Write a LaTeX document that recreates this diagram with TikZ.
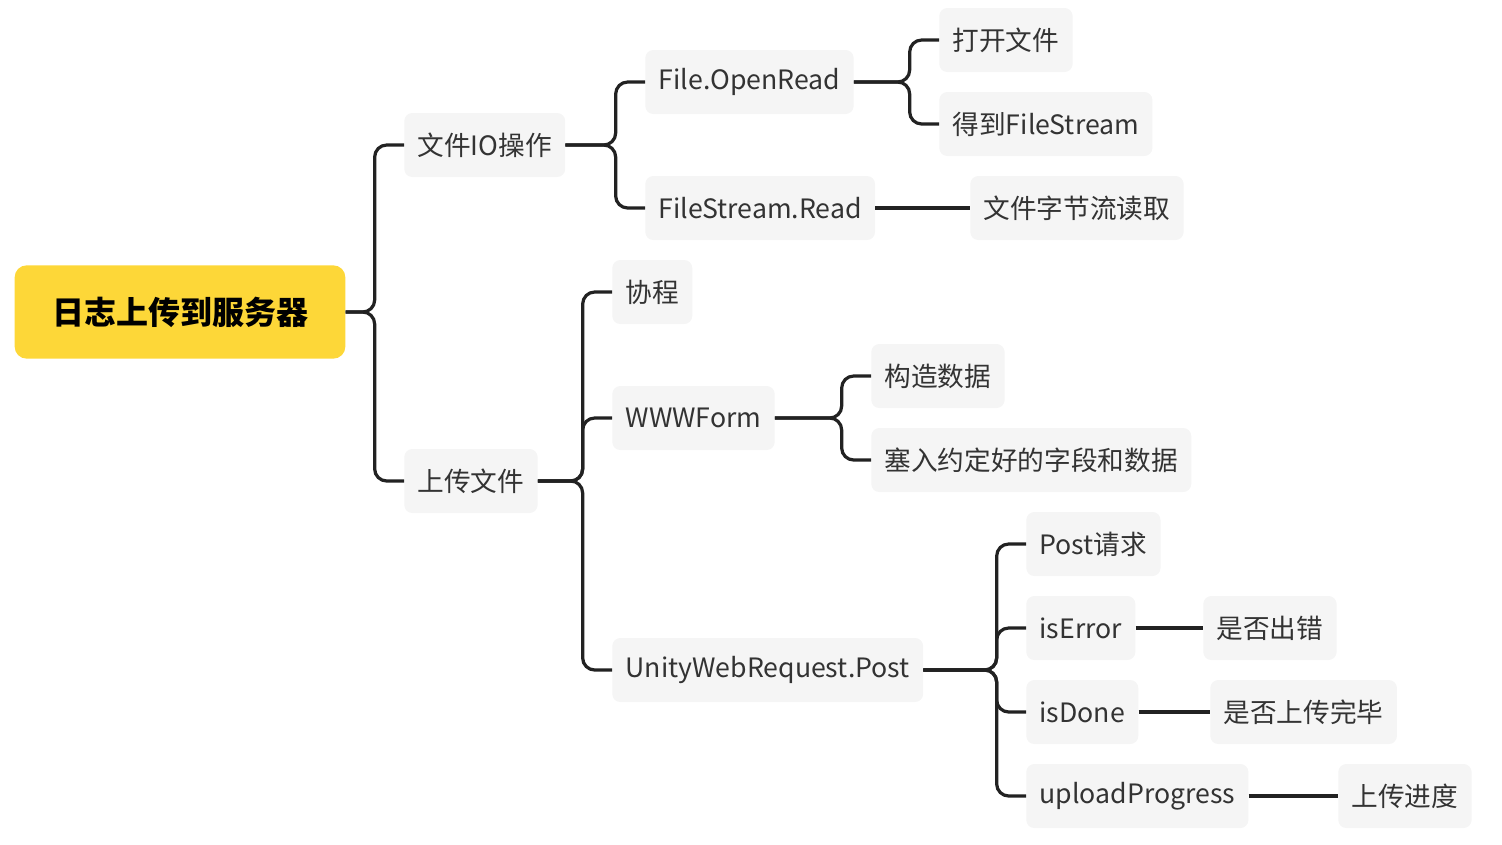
\documentclass[tikz,border=0pt]{standalone}
\usepackage{fontspec}
\setmainfont{Noto Sans CJK SC}
\usetikzlibrary{positioning}

\definecolor{boxgray}{HTML}{F5F5F5}
\definecolor{rootyellow}{HTML}{FDD738}
\definecolor{linkblack}{HTML}{222222}
\definecolor{txtgray}{HTML}{333333}

\tikzset{
  topic/.style={anchor=west, fill=boxgray, rounded corners=6pt, minimum height=48pt,
    inner xsep=10pt, font=\fontsize{20}{24}\selectfont, text=txtgray},
  rootnode/.style={fill=rootyellow, rounded corners=9pt, minimum width=248pt, minimum height=70pt,
    font=\fontsize{24}{28}\selectfont\bfseries, text=black},
  link/.style={line width=2.4pt, draw=linkblack, rounded corners=9pt}
}
\newcommand{\mlink}[2]{\draw[link] (#1.east) -- ([xshift=-22pt]#2.west |- #1.east) |- (#2.west);}

\begin{document}
\begin{tikzpicture}[x=0.75pt, y=-0.75pt]
  \useasboundingbox (0,0) rectangle (1502,844);

  % root
  \node[rootnode] (root) at (180,312) {日志上传到服务器};

  % first level
  \node[topic] (io) at (404,145) {文件IO操作};
  \node[topic] (up) at (404,481) {上传文件};

  % file io
  \node[topic] (open) at (645,82) {File.OpenRead};
  \node[topic] (read) at (645,208) {FileStream.Read};
  \node[topic] (openfile) at (939,40) {打开文件};
  \node[topic] (getfs) at (939,124) {得到FileStream};
  \node[topic] (readbytes) at (970,208) {文件字节流读取};

  % upload
  \node[topic] (co) at (612,292) {协程};
  \node[topic] (form) at (612,418) {WWWForm};
  \node[topic] (post) at (612,670) {UnityWebRequest.Post};
  \node[topic] (build) at (871,376) {构造数据};
  \node[topic] (fill) at (871,460) {塞入约定好的字段和数据};
  \node[topic] (req) at (1026,544) {Post请求};
  \node[topic] (err) at (1026,628) {isError};
  \node[topic] (done) at (1026,712) {isDone};
  \node[topic] (prog) at (1026,796) {uploadProgress};
  \node[topic] (errq) at (1203,628) {是否出错};
  \node[topic] (doneq) at (1210,712) {是否上传完毕};
  \node[topic] (progq) at (1338,796) {上传进度};

  % connectors
  \mlink{root}{io}
  \mlink{root}{up}
  \mlink{io}{open}
  \mlink{io}{read}
  \mlink{open}{openfile}
  \mlink{open}{getfs}
  \draw[link] (read) -- (readbytes);
  \mlink{up}{co}
  \mlink{up}{form}
  \mlink{up}{post}
  \mlink{form}{build}
  \mlink{form}{fill}
  \mlink{post}{req}
  \mlink{post}{err}
  \mlink{post}{done}
  \mlink{post}{prog}
  \draw[link] (err) -- (errq);
  \draw[link] (done) -- (doneq);
  \draw[link] (prog) -- (progq);
\end{tikzpicture}
\end{document}
